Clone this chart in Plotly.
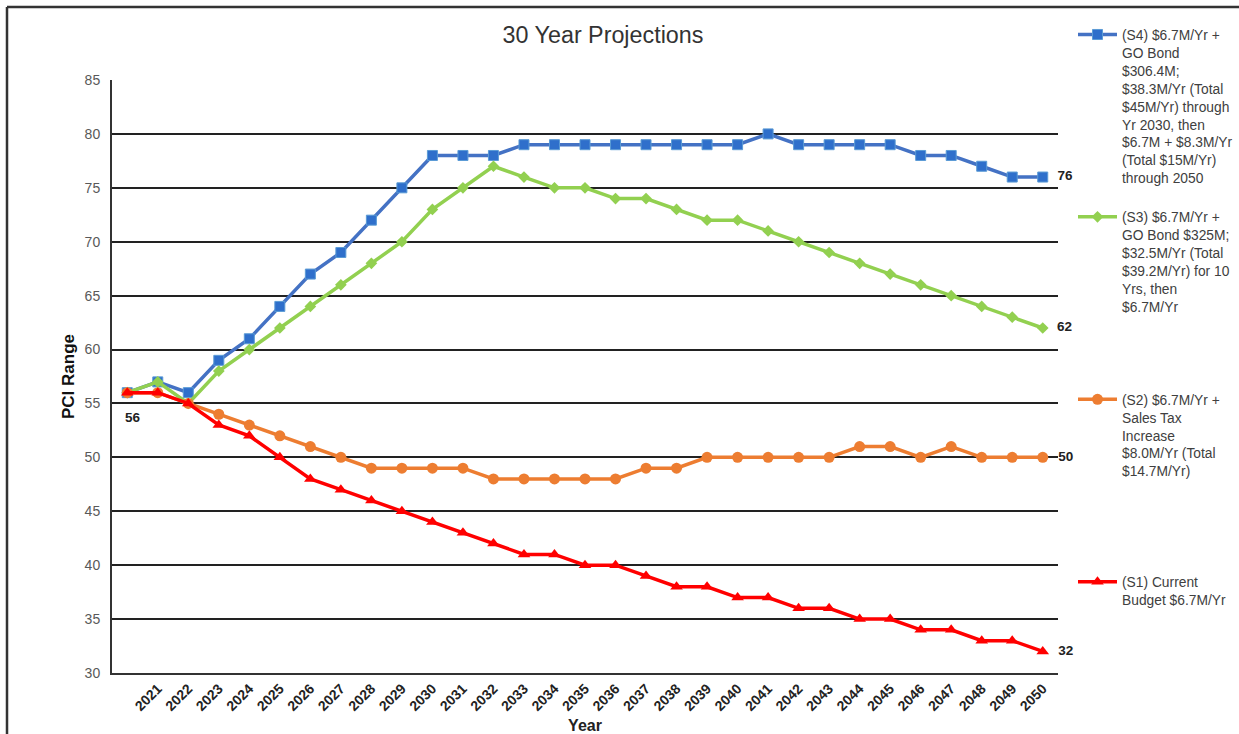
import plotly.graph_objects as go

years = list(range(2020, 2051))
tick_years = list(range(2021, 2051))
tick_labels = [str(y) for y in tick_years]

s1 = [56, 56, 55, 53, 52, 50, 48, 47, 46, 45, 44, 43, 42, 41, 41, 40, 40, 39, 38, 38,
      37, 37, 36, 36, 35, 35, 34, 34, 33, 33, 32]
s2 = [56, 56, 55, 54, 53, 52, 51, 50, 49, 49, 49, 49, 48, 48, 48, 48, 48, 49, 49, 50,
      50, 50, 50, 50, 51, 51, 50, 51, 50, 50, 50]
s3 = [56, 57, 55, 58, 60, 62, 64, 66, 68, 70, 73, 75, 77, 76, 75, 75, 74, 74, 73, 72,
      72, 71, 70, 69, 68, 67, 66, 65, 64, 63, 62]
s4 = [56, 57, 56, 59, 61, 64, 67, 69, 72, 75, 78, 78, 78, 79, 79, 79, 79, 79, 79, 79,
      79, 80, 79, 79, 79, 79, 78, 78, 77, 76, 76]

PAD = "<br>\u00a0"
names = {
    "s4": "(S4) $6.7M/Yr +<br>GO Bond<br>$306.4M;<br>$38.3M/Yr (Total<br>$45M/Yr) through<br>Yr 2030, then<br>$6.7M + $8.3M/Yr<br>(Total $15M/Yr)<br>through 2050" + PAD * 1,
    "s3": "(S3) $6.7M/Yr +<br>GO Bond $325M;<br>$32.5M/Yr (Total<br>$39.2M/Yr) for 10<br>Yrs, then<br>$6.7M/Yr" + PAD * 4,
    "s2": "(S2) $6.7M/Yr +<br>Sales Tax<br>Increase<br>$8.0M/Yr (Total<br>$14.7M/Yr)" + PAD * 5,
    "s1": "(S1) Current<br>Budget $6.7M/Yr",
}

def end_text(vals):
    t = [""] * len(vals)
    t[-1] = "\u00a0\u00a0<b>" + str(vals[-1]) + "</b>"
    return t

lbl_font = dict(family="Liberation Sans, Arial", size=13.5, color="#222222")

fig = go.Figure()

fig.add_trace(go.Scatter(
    x=years, y=s4, mode="lines+markers+text", name=names["s4"],
    line=dict(color="#4472C4", width=3.5),
    marker=dict(symbol="square", size=10, color="#2F6FCB", line=dict(color="#5B9BD5", width=1)),
    text=end_text(s4), textposition="middle right", textfont=lbl_font, cliponaxis=False,
))
fig.add_trace(go.Scatter(
    x=years, y=s3, mode="lines+markers+text", name=names["s3"],
    line=dict(color="#92D050", width=3.5),
    marker=dict(symbol="diamond", size=9, color="#92D050"),
    text=end_text(s3), textposition="middle right", textfont=lbl_font, cliponaxis=False,
))
fig.add_trace(go.Scatter(
    x=years, y=s2, mode="lines+markers+text", name=names["s2"],
    line=dict(color="#ED7D31", width=3.5),
    marker=dict(symbol="circle", size=11, color="#ED7D31"),
    text=end_text(s2), textposition="middle right", textfont=lbl_font, cliponaxis=False,
))
fig.add_trace(go.Scatter(
    x=years, y=s1, mode="lines+markers+text", name=names["s1"],
    line=dict(color="#FF0000", width=3.5),
    marker=dict(symbol="triangle-up", size=11, color="#FF0000"),
    text=end_text(s1), textposition="middle right", textfont=lbl_font, cliponaxis=False,
))

# starting value label under the first point
fig.add_annotation(x=years[0], y=s1[0], text="<b>" + str(s1[0]) + "</b>", showarrow=False,
                   xanchor="left", yanchor="middle", xshift=-4, yshift=-25, font=lbl_font)

fig.update_layout(
    width=1239, height=734,
    margin=dict(l=112, r=181, t=80, b=61, autoexpand=False),
    paper_bgcolor="white", plot_bgcolor="white",
    font=dict(family="Liberation Sans, Arial", color="#404040"),
    title=dict(text="30 Year Projections", x=(603 - 112) / 946, xref="paper", xanchor="center",
               y=1 - 35 / 734, yanchor="middle",
               font=dict(size=23.3, color="#333333")),
    showlegend=True,
    legend=dict(x=(1073 - 112) / 946, xanchor="left", y=1 + 61 / 593, yanchor="top",
                font=dict(size=13.8, color="#404040"), valign="top",
                bgcolor="rgba(0,0,0,0)", tracegroupgap=0, traceorder="normal",
                itemwidth=39, maxheight=720),
    xaxis=dict(
        range=[2019.5, 2050.5], tickmode="array", tickvals=tick_years, ticktext=tick_labels,
        tickangle=-45, showgrid=False, zeroline=False, automargin=False,
        showline=True, linecolor="#333333", linewidth=2, ticks="",
        tickfont=dict(size=14, color="#222222", family="Liberation Sans, Arial", weight="bold"),
        title=dict(text="<b>Year</b>", font=dict(size=16, color="#222222"), standoff=13),
    ),
    yaxis=dict(
        range=[30, 85], dtick=5, showgrid=True, gridcolor="#222222", gridwidth=2,
        zeroline=False, showline=True, linecolor="#333333", linewidth=2, ticks="",
        automargin=False, ticklabelstandoff=7,
        tickfont=dict(size=14, color="#595959"),
        title=dict(text="<b>PCI Range</b>", font=dict(size=17, color="#111111"), standoff=6),
    ),
    shapes=[
        dict(type="line", xref="paper", yref="paper",
             x0=(7 - 112) / 946, x1=(7 - 112) / 946, y0=1 + 73 / 593, y1=-61 / 593 - 0.01,
             line=dict(color="#333333", width=2.5)),
        dict(type="line", xref="paper", yref="paper",
             x0=(7 - 112) / 946, x1=(1239 - 112) / 946 + 0.01, y0=1 + 73 / 593, y1=1 + 73 / 593,
             line=dict(color="#333333", width=2.5)),
    ],
)

fig.write_html("out.html", config={"displayModeBar": False},
               post_script="document.body.style.margin='0';document.body.style.overflow='hidden';")
